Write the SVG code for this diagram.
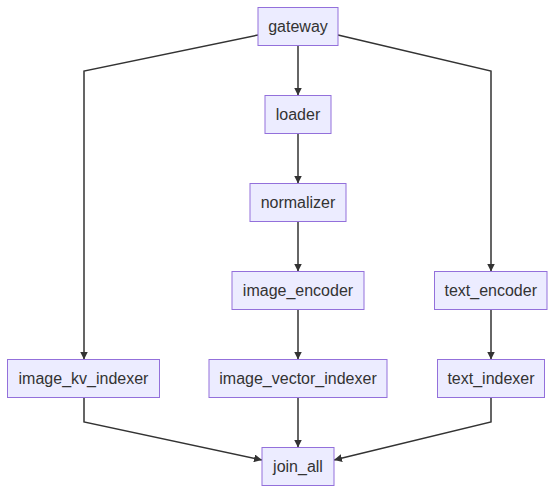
<svg xmlns="http://www.w3.org/2000/svg" width="555" height="494" viewBox="0 0 555 494">
<style>
.n rect{fill:#ECECFF;stroke:#9370DB;stroke-width:1}
.n text{font-family:"Liberation Sans",Arial,sans-serif;font-size:16px;fill:#333;text-anchor:middle;dominant-baseline:central}
.e path{fill:none;stroke:#333;stroke-width:1.5;marker-end:url(#a)}
</style>
<defs>
<marker id="a" viewBox="0 0 10 10" refX="10" refY="5" markerWidth="8" markerHeight="8" markerUnits="userSpaceOnUse" orient="auto">
<path d="M0,0L10,5L0,10z" fill="#333"/>
</marker>
</defs>
<rect width="555" height="494" fill="#fff"/>
<g class="e">
<path d="M298,45.5V95.5"/>
<path d="M298,133.5V183.5"/>
<path d="M298,221.5V271.5"/>
<path d="M298,309.5V359.5"/>
<path d="M298,397.5V447.5"/>
<path d="M258,35L84,71V359.5"/>
<path d="M338,35L491,71V271.5"/>
<path d="M491,309.5V359.5"/>
<path d="M84,397.5V422L262,460"/>
<path d="M491,397.5V422L334,460"/>
</g>
<g id="gateway" class="n"><rect x="258" y="7.5" width="80" height="38"/><text x="298" y="26.5">gateway</text></g>
<g id="loader" class="n"><rect x="265" y="95.5" width="66" height="38"/><text x="298" y="114.5">loader</text></g>
<g id="normalizer" class="n"><rect x="250" y="183.5" width="96" height="38"/><text x="298" y="202.5">normalizer</text></g>
<g id="image_encoder" class="n"><rect x="232" y="271.5" width="132" height="38"/><text x="298" y="290.5">image_encoder</text></g>
<g id="text_encoder" class="n"><rect x="434.5" y="271.5" width="112.5" height="38"/><text x="490.75" y="290.5">text_encoder</text></g>
<g id="image_kv_indexer" class="n"><rect x="7.5" y="359.5" width="152" height="38"/><text x="83.5" y="378.5">image_kv_indexer</text></g>
<g id="image_vector_indexer" class="n"><rect x="209" y="359.5" width="178" height="38"/><text x="298" y="378.5">image_vector_indexer</text></g>
<g id="text_indexer" class="n"><rect x="437.5" y="359.5" width="107" height="38"/><text x="491" y="378.5">text_indexer</text></g>
<g id="join_all" class="n"><rect x="262" y="447.5" width="72" height="38"/><text x="298" y="466.5">join_all</text></g>
</svg>
